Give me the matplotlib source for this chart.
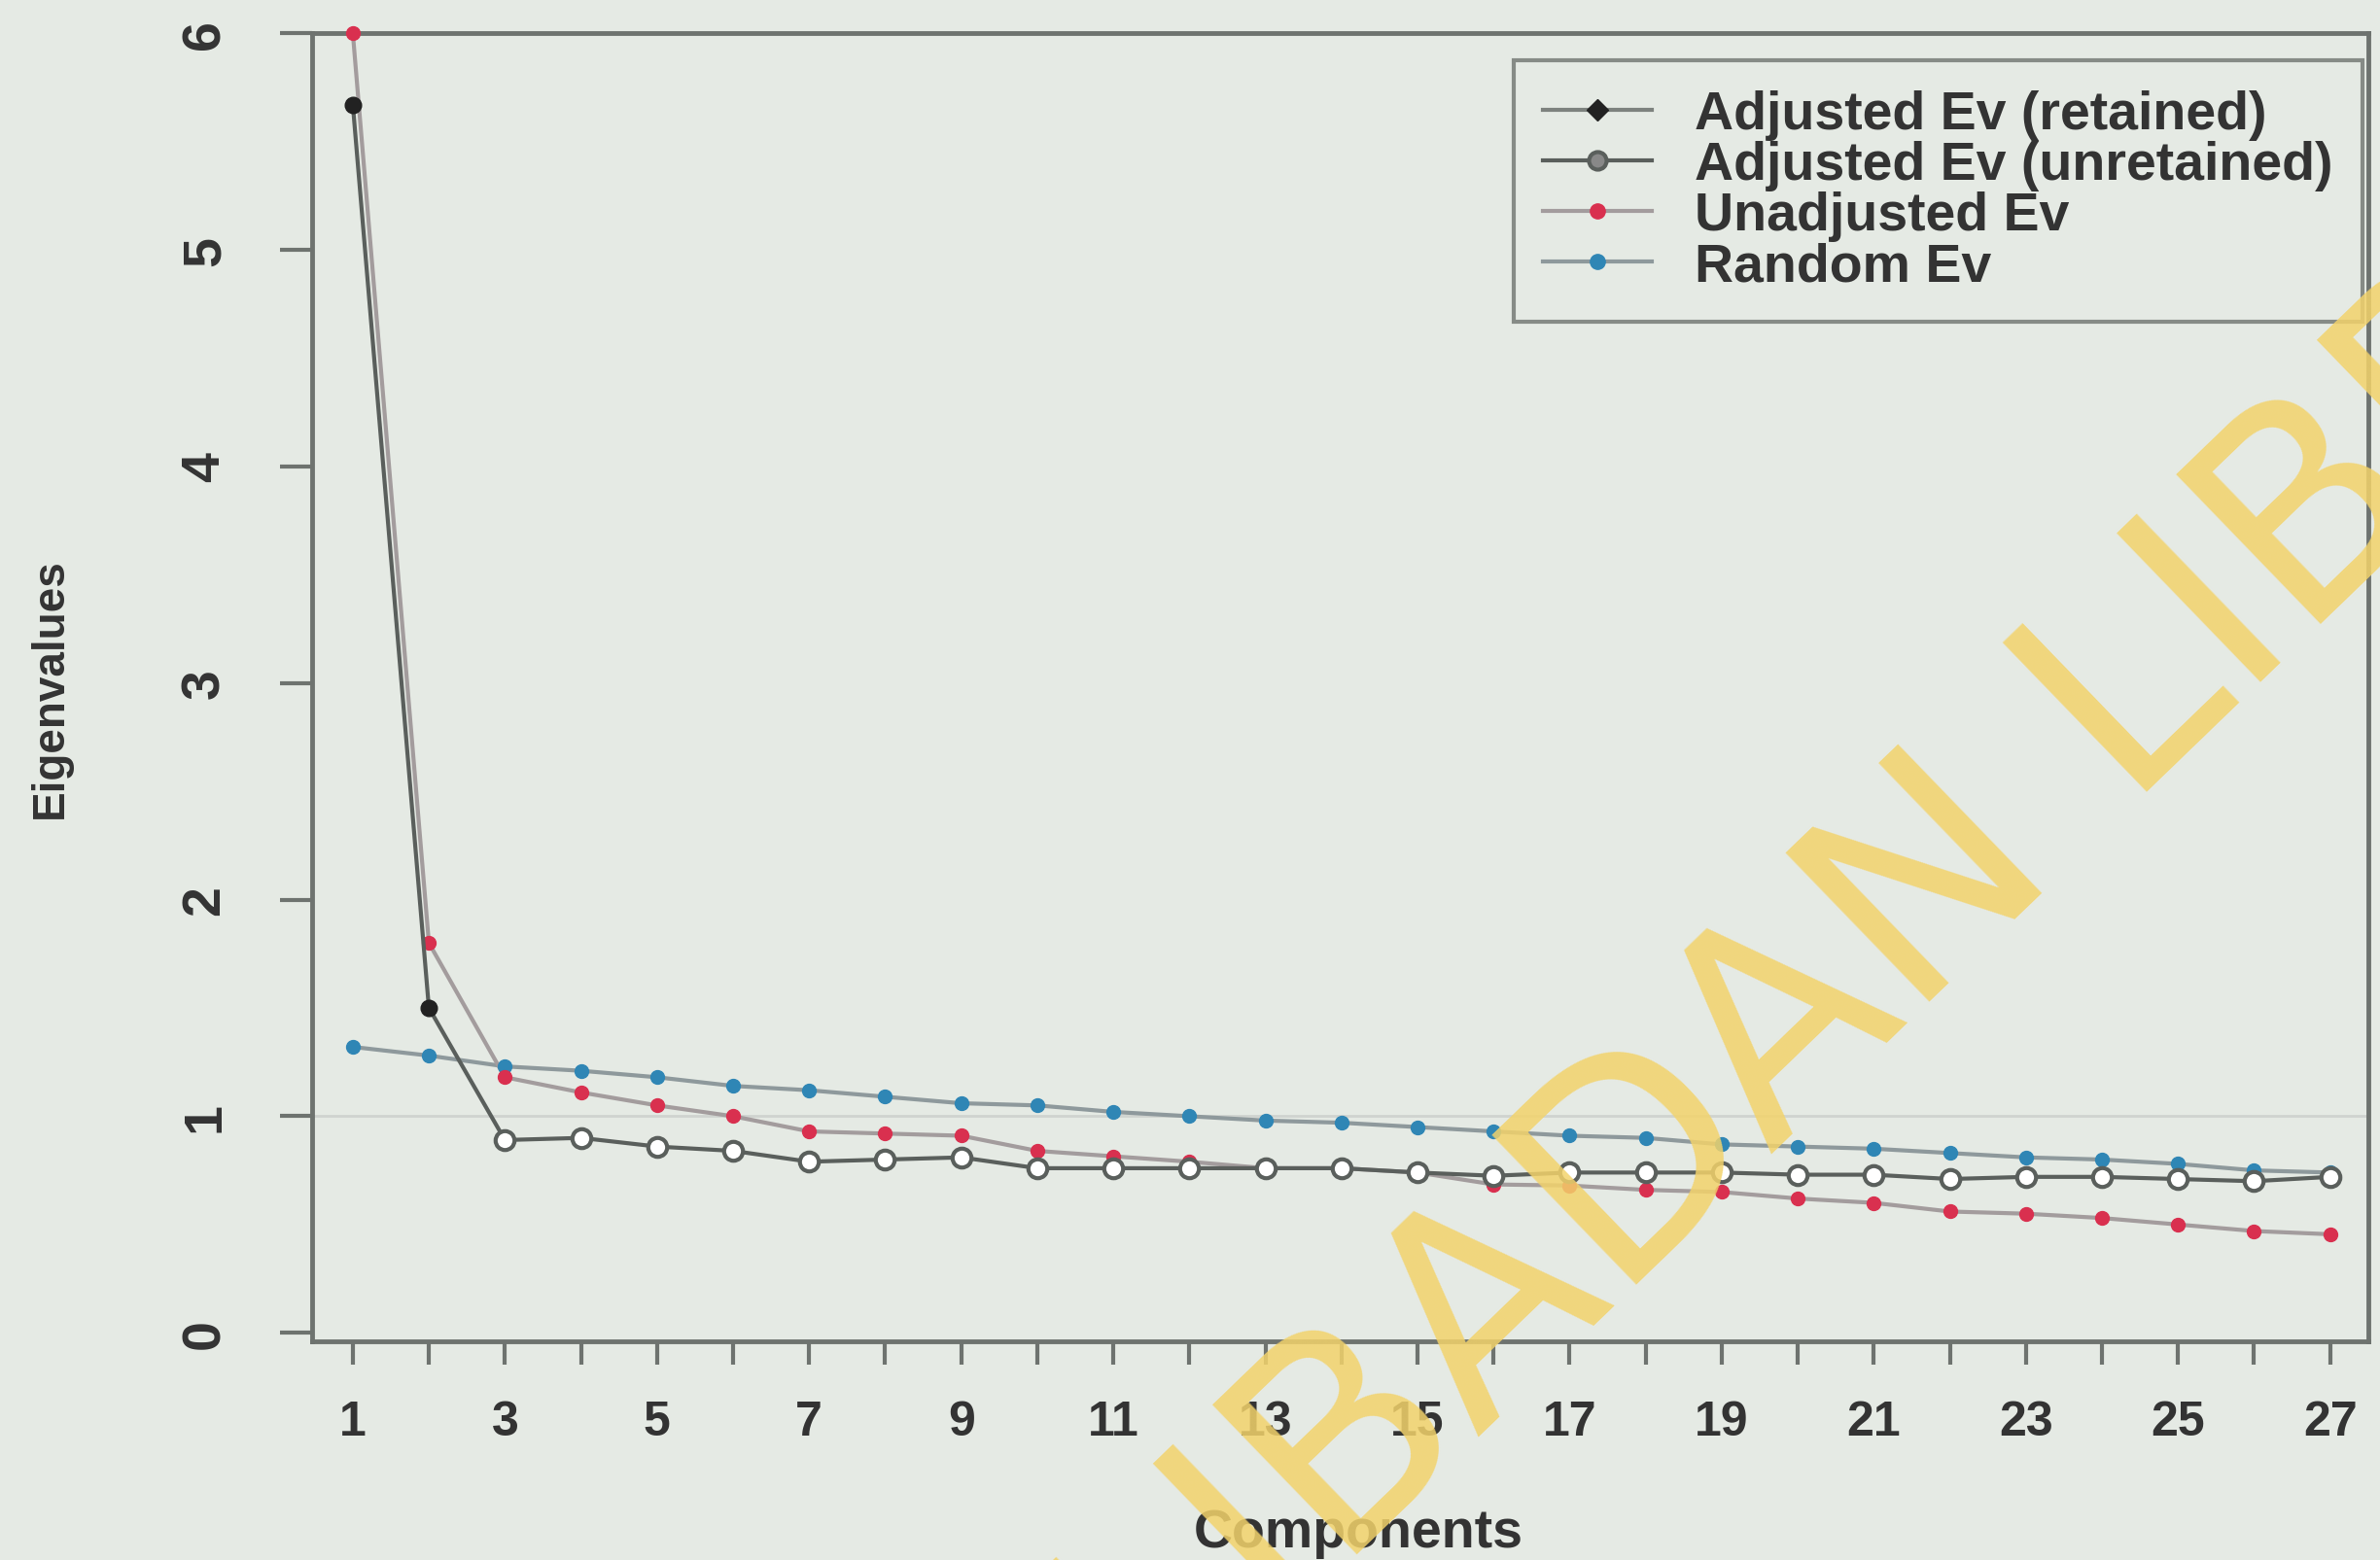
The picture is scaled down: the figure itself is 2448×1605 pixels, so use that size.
import matplotlib
matplotlib.use("Agg")
import matplotlib.pyplot as plt

components = list(range(1, 28))
unadjusted = [6.00, 1.80, 1.18, 1.11, 1.05, 1.00, 0.93, 0.92, 0.91, 0.84, 0.815, 0.79, 0.76, 0.76,
              0.74, 0.685, 0.68, 0.66, 0.65, 0.62, 0.60, 0.56, 0.55, 0.53, 0.50, 0.47, 0.455]
random_ev = [1.32, 1.28, 1.23, 1.21, 1.18, 1.14, 1.12, 1.09, 1.06, 1.05, 1.02, 1.00, 0.98, 0.97,
             0.95, 0.93, 0.91, 0.90, 0.87, 0.86, 0.85, 0.83, 0.81, 0.80, 0.78, 0.75, 0.74]
adjusted = [5.67, 1.50, 0.89, 0.90, 0.86, 0.84, 0.79, 0.80, 0.81, 0.76, 0.76, 0.76, 0.76, 0.76,
            0.74, 0.725, 0.74, 0.74, 0.74, 0.73, 0.73, 0.71, 0.72, 0.72, 0.71, 0.70, 0.72]
n_retained = 2
legend_labels = ["Adjusted Ev (retained)", "Adjusted Ev (unretained)", "Unadjusted Ev", "Random Ev"]
ytick_vals = [0, 1, 2, 3, 4, 5, 6]
watermark = "UNIVERSITY OF IBADAN LIBRARY"

bg = "#e5eae4"
plt.rcParams["font.family"] = ["Liberation Sans", "DejaVu Sans"]

fig = plt.figure(figsize=(24.48, 16.06), dpi=100, facecolor=bg)
ax = fig.add_axes([0.131, 0.140, 0.864, 0.838])
ax.set_facecolor(bg)

ax.axhline(1, color="#cfd3cf", lw=2, zorder=1)

ret_x = components[:n_retained]
ret_y = adjusted[:n_retained]
un_x = components[n_retained:]
un_y = adjusted[n_retained:]

ax.plot(components, random_ev, color="#8e999c", lw=3, zorder=2)
ax.plot(components, random_ev, ls="none", marker="o", ms=10, color="#2f86b5", zorder=3)
ax.plot(components, unadjusted, color="#a39c9d", lw=3, zorder=2)
ax.plot(components, unadjusted, ls="none", marker="o", ms=10, color="#d9304f", zorder=3, clip_on=False)
ax.plot(components, adjusted, color="#5a5f5c", lw=3, zorder=4)
ax.plot(un_x, un_y, ls="none", marker="o", ms=14, mfc="white", mec="#5a5f5c", mew=3, zorder=5)
ax.plot(ret_x, ret_y, ls="none", marker="o", ms=12, color="#222222", zorder=5)

# legend proxies
h1, = ax.plot([], [], color="#7d827e", lw=3, marker="D", ms=11, mfc="#222222", mec="#222222")
h2, = ax.plot([], [], color="#5a5f5c", lw=3, marker="o", ms=13, mfc="#888888", mec="#5a5f5c", mew=3)
h3, = ax.plot([], [], color="#a39c9d", lw=3, marker="o", ms=11, mfc="#d9304f", mec="#d9304f")
h4, = ax.plot([], [], color="#8e999c", lw=3, marker="o", ms=11, mfc="#2f86b5", mec="#2f86b5")
leg = fig.legend([h1, h2, h3, h4], legend_labels, loc="upper left",
                 bbox_to_anchor=(0.636, 0.961), bbox_transform=fig.transFigure,
                 prop={"size": 40, "weight": "bold"}, frameon=True, fancybox=False,
                 handlelength=2.0, handletextpad=0.8, labelspacing=0.0, borderpad=0.55,
                 borderaxespad=0)
leg.get_frame().set_facecolor(bg)
leg.get_frame().set_edgecolor("#6e736f")
leg.get_frame().set_linewidth(3)
for t in leg.get_texts():
    t.set_color("#333333")

ax.set_xlim(0.46, 27.5)
ax.set_ylim(-0.04, 6.0)
ax.set_xticks(components)
ax.set_xticklabels([str(c) if c % 2 == 1 else "" for c in components])
ax.set_yticks(ytick_vals)
ax.set_yticklabels([str(v) for v in ytick_vals], rotation=90, va="center")
ax.tick_params(axis="x", length=17, width=3, color="#6e736f", pad=26,
               labelsize=36, labelcolor="#333333")
ax.tick_params(axis="y", length=24, width=3, color="#6e736f", pad=36,
               labelsize=40, labelcolor="#333333")
for lab in ax.get_xticklabels() + ax.get_yticklabels():
    lab.set_fontweight("bold")
for s in ax.spines.values():
    s.set_color("#6e736f")
    s.set_linewidth(3.5)

ax.set_xlabel("Components", fontsize=40, fontweight="bold", color="#333333", labelpad=48)
ax.xaxis.set_label_coords(0.509, -0.127)
ax.set_ylabel("Eigenvalues", fontsize=33, fontweight="bold", color="#333333", labelpad=80)

fig.text(0.529, 0.013, watermark, rotation=44, ha="center", va="center",
         rotation_mode="anchor", fontsize=210, color="#f3d36b", alpha=0.85,
         family="DejaVu Sans", zorder=10)

fig.savefig("out.png", dpi=100, facecolor=bg)
